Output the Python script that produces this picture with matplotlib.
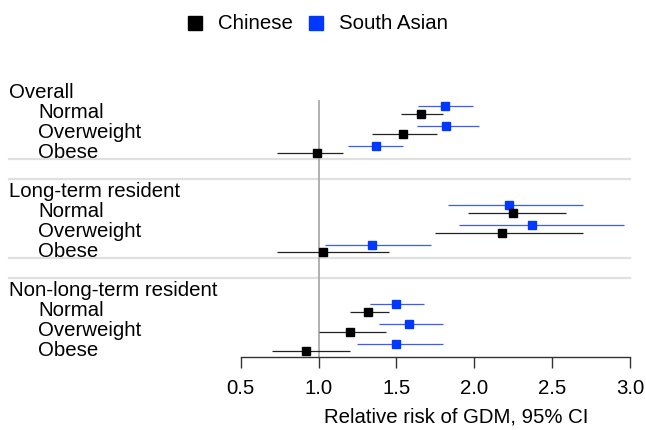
import matplotlib
matplotlib.use("Agg")
import matplotlib.pyplot as plt
from matplotlib.patches import Rectangle
from matplotlib.transforms import blended_transform_factory

plt.rcParams['font.family'] = ['Liberation Sans', 'DejaVu Sans']

groups = ['Overall', 'Long-term resident', 'Non-long-term resident']
categories = ['Normal', 'Overweight', 'Obese']

chinese_rr = [[1.66, 1.54, 0.99], [2.25, 2.18, 1.03], [1.32, 1.20, 0.92]]
chinese_lo = [[1.53, 1.34, 0.73], [1.96, 1.75, 0.73], [1.20, 1.00, 0.70]]
chinese_hi = [[1.80, 1.76, 1.16], [2.59, 2.70, 1.45], [1.45, 1.43, 1.20]]

sa_rr = [[1.81, 1.82, 1.37], [2.22, 2.37, 1.34], [1.50, 1.58, 1.50]]
sa_lo = [[1.64, 1.63, 1.19], [1.83, 1.90, 1.04], [1.33, 1.39, 1.25]]
sa_hi = [[1.99, 2.03, 1.54], [2.70, 2.96, 1.72], [1.68, 1.80, 1.80]]

xticks = [0.5, 1.0, 1.5, 2.0, 2.5, 3.0]
xlabel = 'Relative risk of GDM, 95% CI'

W, H = 646, 431
fig = plt.figure(figsize=(W / 100, H / 100), dpi=100)

def fx(px):
    return px / W

def fy(py):
    return 1 - py / H

ax_left, ax_right = 240.7, 630.0
ax_top, ax_bot = 81.2, 358.4
ax = fig.add_axes([fx(ax_left), fy(ax_bot), fx(ax_right - ax_left), (ax_bot - ax_top) / H])
ax.set_xlim(0.5, 3.0)
ax.set_ylim(13.5, -0.5)

for s in ['top', 'right', 'left']:
    ax.spines[s].set_visible(False)
ax.spines['bottom'].set_color('#333333')
ax.spines['bottom'].set_linewidth(1.0)
ax.set_yticks([])
ax.set_xticks(xticks)
ax.set_xticklabels([f'{t:.1f}' for t in xticks])
ax.tick_params(axis='x', length=8, width=1.0, color='#333333', pad=6.5,
               labelsize=14.7, labelcolor='black')

FS = 14.7
blue = '#0038ff'
blue_line = '#3a5cff'
black_line = '#222222'

# reference line at 1
ax.vlines(1.0, 0.5, 13.5, color='#aaaaaa', lw=1.3, zorder=1)

# separators
trans = blended_transform_factory(fig.transFigure, ax.transData)
for yy in [3.5, 4.5, 8.5, 9.5]:
    ax.plot([fx(9), fx(630)], [yy, yy], transform=trans, color='#e0e0e0',
            lw=1.6, clip_on=False, zorder=0)

off = 0.2
for g, grp in enumerate(groups):
    base = g * 5
    ax.text(fx(9), base + 0.36, grp, transform=trans, ha='left', va='baseline',
            fontsize=FS)
    for c, cat in enumerate(categories):
        y = base + 1 + c
        ax.text(fx(38), y + 0.36, cat, transform=trans, ha='left', va='baseline',
                fontsize=FS)
        # South Asian (above)
        ax.plot([sa_lo[g][c], sa_hi[g][c]], [y - off, y - off], color=blue_line,
                lw=0.9, zorder=2, solid_capstyle='butt')
        ax.plot([sa_rr[g][c]], [y - off], marker='s', ms=5.2, color=blue,
                mec=blue, zorder=3)
        # Chinese (below)
        ax.plot([chinese_lo[g][c], chinese_hi[g][c]], [y + off, y + off],
                color=black_line, lw=0.9, zorder=2, solid_capstyle='butt')
        ax.plot([chinese_rr[g][c]], [y + off], marker='s', ms=5.2, color='black',
                mec='black', zorder=3)

# x label
fig.text(fx(456), fy(423), xlabel, ha='center', va='baseline', fontsize=FS)

# legend
sq = 14
for x0, col, lab, tx in [(188, 'black', 'Chinese', 218), (309, blue, 'South Asian', 339)]:
    fig.patches.append(Rectangle((fx(x0), fy(31)), fx(sq), sq / H, color=col,
                                 transform=fig.transFigure, figure=fig))
    fig.text(fx(tx), fy(29.3), lab, ha='left', va='baseline', fontsize=FS)

fig.savefig('out.png', dpi=100)
